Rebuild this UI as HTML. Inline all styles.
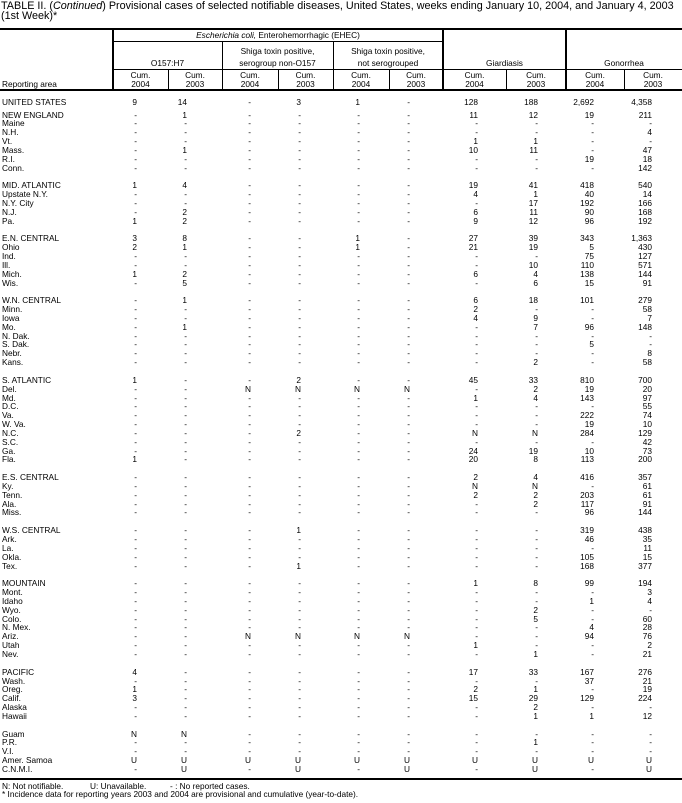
<!DOCTYPE html>
<html><head><meta charset="utf-8">
<style>
*{margin:0;padding:0;box-sizing:border-box}
body{width:682px;height:803px;background:#fff;position:relative;overflow:hidden;font-family:"Liberation Sans",sans-serif;color:#000}
.t{position:absolute;left:1px;top:1px;font-size:10.8px;line-height:10px;white-space:nowrap}
.h{position:absolute;background:#000}
.x{position:absolute;font-size:8.3px;line-height:9px;text-align:center;white-space:nowrap}
#body{position:absolute;left:0;top:110.5px;width:682px}
.r{position:relative;height:8.85px;font-size:8.3px;line-height:9px;white-space:nowrap}
.r b{font-weight:normal;position:absolute;left:2px;top:0}
.r i{font-style:normal;position:absolute;top:0;width:40px;text-align:right}
.r i:nth-of-type(1){left:97px}.r i:nth-of-type(2){left:147px}.r i:nth-of-type(3){left:211px}
.r i:nth-of-type(4){left:261px}.r i:nth-of-type(5){left:320px}.r i:nth-of-type(6){left:370px}
.r i:nth-of-type(7){left:438px}.r i:nth-of-type(8){left:498px}.r i:nth-of-type(9){left:554px}
.r i:nth-of-type(10){left:612px}
.f{position:absolute;font-size:8.3px;line-height:9px;white-space:nowrap}
</style></head><body>
<div class="t">TABLE II. (<i>Continued</i>) Provisional cases of selected notifiable diseases, United States, weeks ending January 10, 2004, and January 4, 2003<br>(1st Week)*</div>

<div class="h" style="left:0;top:28px;width:682px;height:2px"></div>
<div class="h" style="left:113px;top:41px;width:330px;height:1px"></div>
<div class="h" style="left:113px;top:69px;width:569px;height:1px"></div>
<div class="h" style="left:0;top:89px;width:682px;height:2px"></div>
<div class="h" style="left:112px;top:29px;width:2px;height:61px"></div>
<div class="h" style="left:442px;top:29px;width:2px;height:61px"></div>
<div class="h" style="left:565px;top:29px;width:2px;height:61px"></div>
<div class="h" style="left:222px;top:41px;width:1px;height:49px"></div>
<div class="h" style="left:333px;top:41px;width:1px;height:49px"></div>
<div class="h" style="left:168px;top:69px;width:1px;height:21px"></div>
<div class="h" style="left:278px;top:69px;width:1px;height:21px"></div>
<div class="h" style="left:389px;top:69px;width:1px;height:21px"></div>
<div class="h" style="left:506px;top:69px;width:1px;height:21px"></div>
<div class="h" style="left:624px;top:69px;width:1px;height:21px"></div>

<div class="x" style="left:113px;width:330px;top:31px"><i>Escherichia coli,</i> Enterohemorrhagic (EHEC)</div>
<div class="x" style="left:113px;width:109px;top:59px">O157:H7</div>
<div class="x" style="left:222px;width:111px;top:47px">Shiga toxin positive,</div>
<div class="x" style="left:222px;width:111px;top:59px">serogroup non-O157</div>
<div class="x" style="left:333px;width:110px;top:47px">Shiga toxin positive,</div>
<div class="x" style="left:333px;width:110px;top:59px">not serogrouped</div>
<div class="x" style="left:443px;width:123px;top:59px">Giardiasis</div>
<div class="x" style="left:566px;width:116px;top:59px">Gonorrhea</div>
<div class="x" style="left:2px;top:80px;text-align:left">Reporting area</div>

<div class="x" style="left:113px;width:55px;top:71px">Cum.<br>2004</div>
<div class="x" style="left:168px;width:54px;top:71px">Cum.<br>2003</div>
<div class="x" style="left:222px;width:56px;top:71px">Cum.<br>2004</div>
<div class="x" style="left:278px;width:55px;top:71px">Cum.<br>2003</div>
<div class="x" style="left:333px;width:56px;top:71px">Cum.<br>2004</div>
<div class="x" style="left:389px;width:54px;top:71px">Cum.<br>2003</div>
<div class="x" style="left:443px;width:63px;top:71px">Cum.<br>2004</div>
<div class="x" style="left:506px;width:60px;top:71px">Cum.<br>2003</div>
<div class="x" style="left:566px;width:58px;top:71px">Cum.<br>2004</div>
<div class="x" style="left:624px;width:58px;top:71px">Cum.<br>2003</div>

<div class="r" style="position:absolute;top:97.5px;width:682px"><b>UNITED STATES</b><i>9</i><i>14</i><i>-</i><i>3</i><i>1</i><i>-</i><i>128</i><i>188</i><i>2,692</i><i>4,358</i></div>

<div id="body">
<div class="r"><b>NEW ENGLAND</b><i>-</i><i>1</i><i>-</i><i>-</i><i>-</i><i>-</i><i>11</i><i>12</i><i>19</i><i>211</i></div>
<div class="r"><b>Maine</b><i>-</i><i>-</i><i>-</i><i>-</i><i>-</i><i>-</i><i>-</i><i>-</i><i>-</i><i>-</i></div>
<div class="r"><b>N.H.</b><i>-</i><i>-</i><i>-</i><i>-</i><i>-</i><i>-</i><i>-</i><i>-</i><i>-</i><i>4</i></div>
<div class="r"><b>Vt.</b><i>-</i><i>-</i><i>-</i><i>-</i><i>-</i><i>-</i><i>1</i><i>1</i><i>-</i><i>-</i></div>
<div class="r"><b>Mass.</b><i>-</i><i>1</i><i>-</i><i>-</i><i>-</i><i>-</i><i>10</i><i>11</i><i>-</i><i>47</i></div>
<div class="r"><b>R.I.</b><i>-</i><i>-</i><i>-</i><i>-</i><i>-</i><i>-</i><i>-</i><i>-</i><i>19</i><i>18</i></div>
<div class="r"><b>Conn.</b><i>-</i><i>-</i><i>-</i><i>-</i><i>-</i><i>-</i><i>-</i><i>-</i><i>-</i><i>142</i></div>
<div class="r"></div>
<div class="r"><b>MID. ATLANTIC</b><i>1</i><i>4</i><i>-</i><i>-</i><i>-</i><i>-</i><i>19</i><i>41</i><i>418</i><i>540</i></div>
<div class="r"><b>Upstate N.Y.</b><i>-</i><i>-</i><i>-</i><i>-</i><i>-</i><i>-</i><i>4</i><i>1</i><i>40</i><i>14</i></div>
<div class="r"><b>N.Y. City</b><i>-</i><i>-</i><i>-</i><i>-</i><i>-</i><i>-</i><i>-</i><i>17</i><i>192</i><i>166</i></div>
<div class="r"><b>N.J.</b><i>-</i><i>2</i><i>-</i><i>-</i><i>-</i><i>-</i><i>6</i><i>11</i><i>90</i><i>168</i></div>
<div class="r"><b>Pa.</b><i>1</i><i>2</i><i>-</i><i>-</i><i>-</i><i>-</i><i>9</i><i>12</i><i>96</i><i>192</i></div>
<div class="r"></div>
<div class="r"><b>E.N. CENTRAL</b><i>3</i><i>8</i><i>-</i><i>-</i><i>1</i><i>-</i><i>27</i><i>39</i><i>343</i><i>1,363</i></div>
<div class="r"><b>Ohio</b><i>2</i><i>1</i><i>-</i><i>-</i><i>1</i><i>-</i><i>21</i><i>19</i><i>5</i><i>430</i></div>
<div class="r"><b>Ind.</b><i>-</i><i>-</i><i>-</i><i>-</i><i>-</i><i>-</i><i>-</i><i>-</i><i>75</i><i>127</i></div>
<div class="r"><b>Ill.</b><i>-</i><i>-</i><i>-</i><i>-</i><i>-</i><i>-</i><i>-</i><i>10</i><i>110</i><i>571</i></div>
<div class="r"><b>Mich.</b><i>1</i><i>2</i><i>-</i><i>-</i><i>-</i><i>-</i><i>6</i><i>4</i><i>138</i><i>144</i></div>
<div class="r"><b>Wis.</b><i>-</i><i>5</i><i>-</i><i>-</i><i>-</i><i>-</i><i>-</i><i>6</i><i>15</i><i>91</i></div>
<div class="r"></div>
<div class="r"><b>W.N. CENTRAL</b><i>-</i><i>1</i><i>-</i><i>-</i><i>-</i><i>-</i><i>6</i><i>18</i><i>101</i><i>279</i></div>
<div class="r"><b>Minn.</b><i>-</i><i>-</i><i>-</i><i>-</i><i>-</i><i>-</i><i>2</i><i>-</i><i>-</i><i>58</i></div>
<div class="r"><b>Iowa</b><i>-</i><i>-</i><i>-</i><i>-</i><i>-</i><i>-</i><i>4</i><i>9</i><i>-</i><i>7</i></div>
<div class="r"><b>Mo.</b><i>-</i><i>1</i><i>-</i><i>-</i><i>-</i><i>-</i><i>-</i><i>7</i><i>96</i><i>148</i></div>
<div class="r"><b>N. Dak.</b><i>-</i><i>-</i><i>-</i><i>-</i><i>-</i><i>-</i><i>-</i><i>-</i><i>-</i><i>-</i></div>
<div class="r"><b>S. Dak.</b><i>-</i><i>-</i><i>-</i><i>-</i><i>-</i><i>-</i><i>-</i><i>-</i><i>5</i><i>-</i></div>
<div class="r"><b>Nebr.</b><i>-</i><i>-</i><i>-</i><i>-</i><i>-</i><i>-</i><i>-</i><i>-</i><i>-</i><i>8</i></div>
<div class="r"><b>Kans.</b><i>-</i><i>-</i><i>-</i><i>-</i><i>-</i><i>-</i><i>-</i><i>2</i><i>-</i><i>58</i></div>
<div class="r"></div>
<div class="r"><b>S. ATLANTIC</b><i>1</i><i>-</i><i>-</i><i>2</i><i>-</i><i>-</i><i>45</i><i>33</i><i>810</i><i>700</i></div>
<div class="r"><b>Del.</b><i>-</i><i>-</i><i>N</i><i>N</i><i>N</i><i>N</i><i>-</i><i>2</i><i>19</i><i>20</i></div>
<div class="r"><b>Md.</b><i>-</i><i>-</i><i>-</i><i>-</i><i>-</i><i>-</i><i>1</i><i>4</i><i>143</i><i>97</i></div>
<div class="r"><b>D.C.</b><i>-</i><i>-</i><i>-</i><i>-</i><i>-</i><i>-</i><i>-</i><i>-</i><i>-</i><i>55</i></div>
<div class="r"><b>Va.</b><i>-</i><i>-</i><i>-</i><i>-</i><i>-</i><i>-</i><i>-</i><i>-</i><i>222</i><i>74</i></div>
<div class="r"><b>W. Va.</b><i>-</i><i>-</i><i>-</i><i>-</i><i>-</i><i>-</i><i>-</i><i>-</i><i>19</i><i>10</i></div>
<div class="r"><b>N.C.</b><i>-</i><i>-</i><i>-</i><i>2</i><i>-</i><i>-</i><i>N</i><i>N</i><i>284</i><i>129</i></div>
<div class="r"><b>S.C.</b><i>-</i><i>-</i><i>-</i><i>-</i><i>-</i><i>-</i><i>-</i><i>-</i><i>-</i><i>42</i></div>
<div class="r"><b>Ga.</b><i>-</i><i>-</i><i>-</i><i>-</i><i>-</i><i>-</i><i>24</i><i>19</i><i>10</i><i>73</i></div>
<div class="r"><b>Fla.</b><i>1</i><i>-</i><i>-</i><i>-</i><i>-</i><i>-</i><i>20</i><i>8</i><i>113</i><i>200</i></div>
<div class="r"></div>
<div class="r"><b>E.S. CENTRAL</b><i>-</i><i>-</i><i>-</i><i>-</i><i>-</i><i>-</i><i>2</i><i>4</i><i>416</i><i>357</i></div>
<div class="r"><b>Ky.</b><i>-</i><i>-</i><i>-</i><i>-</i><i>-</i><i>-</i><i>N</i><i>N</i><i>-</i><i>61</i></div>
<div class="r"><b>Tenn.</b><i>-</i><i>-</i><i>-</i><i>-</i><i>-</i><i>-</i><i>2</i><i>2</i><i>203</i><i>61</i></div>
<div class="r"><b>Ala.</b><i>-</i><i>-</i><i>-</i><i>-</i><i>-</i><i>-</i><i>-</i><i>2</i><i>117</i><i>91</i></div>
<div class="r"><b>Miss.</b><i>-</i><i>-</i><i>-</i><i>-</i><i>-</i><i>-</i><i>-</i><i>-</i><i>96</i><i>144</i></div>
<div class="r"></div>
<div class="r"><b>W.S. CENTRAL</b><i>-</i><i>-</i><i>-</i><i>1</i><i>-</i><i>-</i><i>-</i><i>-</i><i>319</i><i>438</i></div>
<div class="r"><b>Ark.</b><i>-</i><i>-</i><i>-</i><i>-</i><i>-</i><i>-</i><i>-</i><i>-</i><i>46</i><i>35</i></div>
<div class="r"><b>La.</b><i>-</i><i>-</i><i>-</i><i>-</i><i>-</i><i>-</i><i>-</i><i>-</i><i>-</i><i>11</i></div>
<div class="r"><b>Okla.</b><i>-</i><i>-</i><i>-</i><i>-</i><i>-</i><i>-</i><i>-</i><i>-</i><i>105</i><i>15</i></div>
<div class="r"><b>Tex.</b><i>-</i><i>-</i><i>-</i><i>1</i><i>-</i><i>-</i><i>-</i><i>-</i><i>168</i><i>377</i></div>
<div class="r"></div>
<div class="r"><b>MOUNTAIN</b><i>-</i><i>-</i><i>-</i><i>-</i><i>-</i><i>-</i><i>1</i><i>8</i><i>99</i><i>194</i></div>
<div class="r"><b>Mont.</b><i>-</i><i>-</i><i>-</i><i>-</i><i>-</i><i>-</i><i>-</i><i>-</i><i>-</i><i>3</i></div>
<div class="r"><b>Idaho</b><i>-</i><i>-</i><i>-</i><i>-</i><i>-</i><i>-</i><i>-</i><i>-</i><i>1</i><i>4</i></div>
<div class="r"><b>Wyo.</b><i>-</i><i>-</i><i>-</i><i>-</i><i>-</i><i>-</i><i>-</i><i>2</i><i>-</i><i>-</i></div>
<div class="r"><b>Colo.</b><i>-</i><i>-</i><i>-</i><i>-</i><i>-</i><i>-</i><i>-</i><i>5</i><i>-</i><i>60</i></div>
<div class="r"><b>N. Mex.</b><i>-</i><i>-</i><i>-</i><i>-</i><i>-</i><i>-</i><i>-</i><i>-</i><i>4</i><i>28</i></div>
<div class="r"><b>Ariz.</b><i>-</i><i>-</i><i>N</i><i>N</i><i>N</i><i>N</i><i>-</i><i>-</i><i>94</i><i>76</i></div>
<div class="r"><b>Utah</b><i>-</i><i>-</i><i>-</i><i>-</i><i>-</i><i>-</i><i>1</i><i>-</i><i>-</i><i>2</i></div>
<div class="r"><b>Nev.</b><i>-</i><i>-</i><i>-</i><i>-</i><i>-</i><i>-</i><i>-</i><i>1</i><i>-</i><i>21</i></div>
<div class="r"></div>
<div class="r"><b>PACIFIC</b><i>4</i><i>-</i><i>-</i><i>-</i><i>-</i><i>-</i><i>17</i><i>33</i><i>167</i><i>276</i></div>
<div class="r"><b>Wash.</b><i>-</i><i>-</i><i>-</i><i>-</i><i>-</i><i>-</i><i>-</i><i>-</i><i>37</i><i>21</i></div>
<div class="r"><b>Oreg.</b><i>1</i><i>-</i><i>-</i><i>-</i><i>-</i><i>-</i><i>2</i><i>1</i><i>-</i><i>19</i></div>
<div class="r"><b>Calif.</b><i>3</i><i>-</i><i>-</i><i>-</i><i>-</i><i>-</i><i>15</i><i>29</i><i>129</i><i>224</i></div>
<div class="r"><b>Alaska</b><i>-</i><i>-</i><i>-</i><i>-</i><i>-</i><i>-</i><i>-</i><i>2</i><i>-</i><i>-</i></div>
<div class="r"><b>Hawaii</b><i>-</i><i>-</i><i>-</i><i>-</i><i>-</i><i>-</i><i>-</i><i>1</i><i>1</i><i>12</i></div>
<div class="r"></div>
<div class="r"><b>Guam</b><i>N</i><i>N</i><i>-</i><i>-</i><i>-</i><i>-</i><i>-</i><i>-</i><i>-</i><i>-</i></div>
<div class="r"><b>P.R.</b><i>-</i><i>-</i><i>-</i><i>-</i><i>-</i><i>-</i><i>-</i><i>1</i><i>-</i><i>-</i></div>
<div class="r"><b>V.I.</b><i>-</i><i>-</i><i>-</i><i>-</i><i>-</i><i>-</i><i>-</i><i>-</i><i>-</i><i>-</i></div>
<div class="r"><b>Amer. Samoa</b><i>U</i><i>U</i><i>U</i><i>U</i><i>U</i><i>U</i><i>U</i><i>U</i><i>U</i><i>U</i></div>
<div class="r"><b>C.N.M.I.</b><i>-</i><i>U</i><i>-</i><i>U</i><i>-</i><i>U</i><i>-</i><i>U</i><i>-</i><i>U</i></div>
</div>

<div class="h" style="left:0;top:778px;width:682px;height:2px"></div>
<div class="f" style="left:2px;top:782px">N: Not notifiable.</div>
<div class="f" style="left:90px;top:782px">U: Unavailable.</div>
<div class="f" style="left:170px;top:782px">- : No reported cases.</div>
<div class="f" style="left:2px;top:790px">* Incidence data for reporting years 2003 and 2004 are provisional and cumulative (year-to-date).</div>
</body></html>
